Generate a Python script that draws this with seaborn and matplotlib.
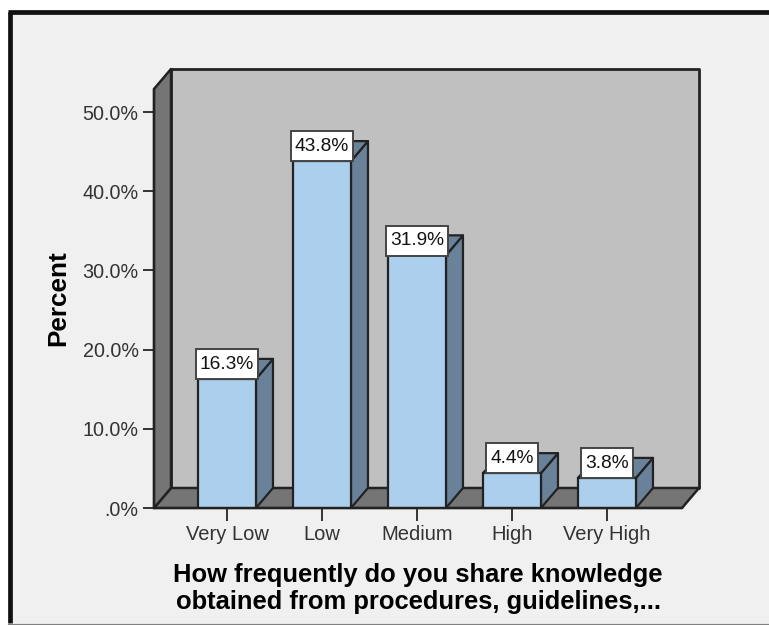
import matplotlib
matplotlib.use("Agg")
import matplotlib.pyplot as plt
import seaborn as sns
import pandas as pd
from matplotlib.lines import Line2D
from matplotlib.patches import Polygon, Rectangle

categories = ["Very Low", "Low", "Medium", "High", "Very High"]
percents = [16.3, 43.8, 31.9, 4.4, 3.8]
y_ticks = [0, 10, 20, 30, 40, 50]
y_tick_labels = [".0%", "10.0%", "20.0%", "30.0%", "40.0%", "50.0%"]
x_title = "How frequently do you share knowledge\nobtained from procedures, guidelines,..."

W, H = 769, 625
INK = "#222222"
PANEL = "#F0F0F0"
WALL = "#C0C0C0"
SHADE = "#757575"
BAR_FRONT = "#ABCFEC"
BAR_SIDE = "#6A8299"

sns.set_theme(style="white")
plt.rcParams["font.family"] = ["Liberation Sans", "DejaVu Sans"]

fig = plt.figure(figsize=(W / 100, H / 100), dpi=100, facecolor="white")


def fx(px):
    return px / W


def fy(py):
    return 1 - py / H


# Outer panel with its heavy frame, kept behind the axes
fig.add_artist(Rectangle((fx(8), fy(623)), fx(W - 8), (623 - 10) / H,
                         transform=fig.transFigure, facecolor=PANEL, edgecolor="none", zorder=-3))
fig.add_artist(Line2D([fx(10), fx(10)], [fy(623), fy(12)], color="#111111", lw=3.4,
                      solid_capstyle="butt", zorder=-2))
fig.add_artist(Line2D([fx(8), fx(W)], [fy(12), fy(12)], color="#111111", lw=3.4,
                      solid_capstyle="butt", zorder=-2))
fig.add_artist(Line2D([fx(8), fx(W)], [fy(623.5), fy(623.5)], color="#808080", lw=1.0, zorder=-2))

# Front plane of the 3D box
left, right, bottom, top = 154, 682, 508, 89
ax = fig.add_axes([fx(left), fy(bottom), (right - left) / W, (bottom - top) / H])
ax.set_facecolor("none")

df = pd.DataFrame({"category": categories, "percent": percents})
sns.barplot(data=df, x="category", y="percent", order=categories, color=BAR_FRONT,
            saturation=1, width=0.61, edgecolor=INK, linewidth=1.6, zorder=5, ax=ax)

PX_X = 95.0          # pixels per category step
PX_Y = 396 / 50.0    # pixels per percent
x_min = -(227 - left) / PX_X
x_max = (right - 227) / PX_X
y_max = (bottom - top) / PX_Y
ax.set_xlim(x_min, x_max)
ax.set_ylim(0, y_max)

# Depth of the box, expressed in data units
dx = 17 / PX_X
dy = 20 / PX_Y


def face(points, color, z, lw=1.6):
    ax.add_patch(Polygon(points, closed=True, facecolor=color, edgecolor=INK, linewidth=lw,
                         joinstyle="round", clip_on=False, zorder=z))


# Side and top faces of each bar, taken from the drawn rectangles
for bar in list(ax.patches):
    if not isinstance(bar, Rectangle):
        continue
    x0, x1 = bar.get_x(), bar.get_x() + bar.get_width()
    v = bar.get_height()
    face([(x1, 0), (x1 + dx, dy), (x1 + dx, v + dy), (x1, v)], BAR_SIDE, 4)
    face([(x0, v), (x0 + dx, v + dy), (x1 + dx, v + dy), (x1, v)], BAR_SIDE, 4)
    ax.annotate(f"{v:.1f}%", xy=(x0 + bar.get_width() / 2, v), xytext=(0, 10.6),
                textcoords="offset points", ha="center", va="center", fontsize=13.8,
                color="#111111", zorder=7,
                bbox=dict(boxstyle="square,pad=0.2", mutation_aspect=1.7, facecolor="white",
                          edgecolor="#444444", linewidth=1.4))

# Back wall, floor and left wall
face([(x_min + dx, dy), (x_max + dx, dy), (x_max + dx, y_max + dy), (x_min + dx, y_max + dy)],
     WALL, 1, lw=2.0)
face([(x_min, 0), (x_max, 0), (x_max + dx, dy), (x_min + dx, dy)], SHADE, 2, lw=1.8)
face([(x_min, 0), (x_min + dx, dy), (x_min + dx, y_max + dy), (x_min, y_max)], SHADE, 2, lw=1.8)

ax.set_xticks(range(len(categories)))
ax.set_xticklabels(categories)
ax.set_yticks(y_ticks)
ax.set_yticklabels(y_tick_labels)
ax.tick_params(axis="x", length=9.5, width=1.4, color="#333333", labelsize=14.5,
               labelcolor="#333333", pad=3, bottom=True)
ax.tick_params(axis="y", length=8, width=1.4, color="#333333", labelsize=14.2,
               labelcolor="#333333", pad=3, left=True)

sns.despine(ax=ax, top=True, right=True)
for side in ("left", "bottom"):
    ax.spines[side].set_color(INK)
    ax.spines[side].set_linewidth(1.6)
    ax.spines[side].set_zorder(6)

ax.set_xlabel(x_title, fontsize=18.4, fontweight="bold", color="#000000", labelpad=13.5,
              linespacing=1.17)
ax.set_ylabel("Percent", fontsize=18.8, fontweight="bold", color="#000000", labelpad=9)

fig.savefig("out.png", dpi=100, facecolor=fig.get_facecolor())
